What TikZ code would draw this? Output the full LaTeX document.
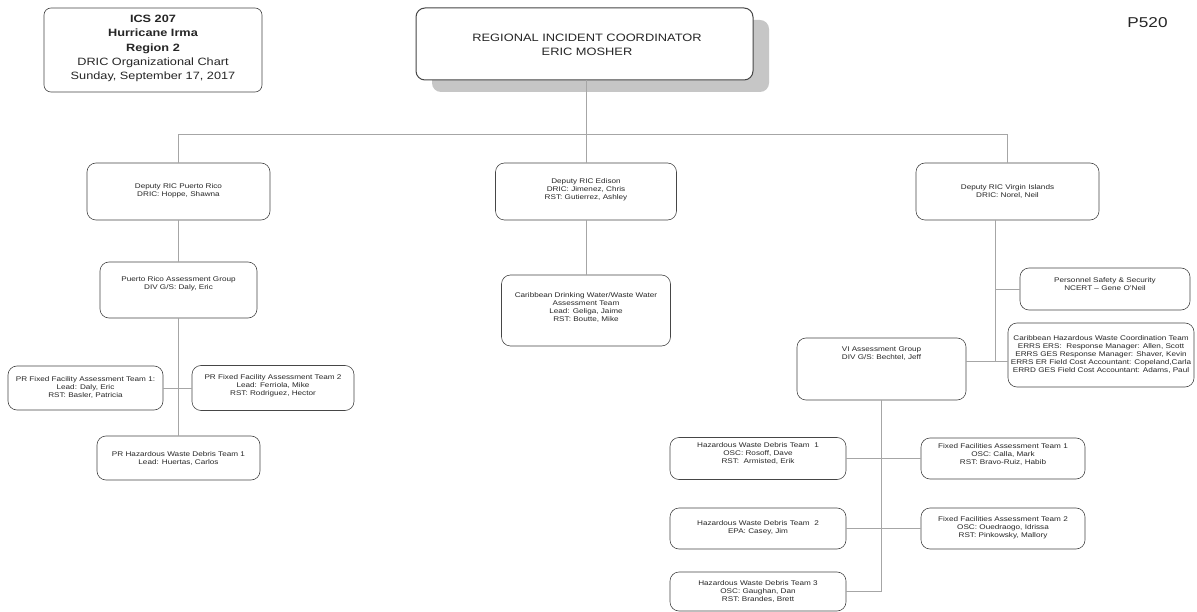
\documentclass[tikz,border=0pt]{standalone}
\usepackage{fontspec}
\setmainfont{Liberation Sans}[FakeStretch=1.2]
\tikzset{
  box/.style={draw=gray!55!black, line width=0.6pt, rounded corners=9pt, fill=white, inner sep=0pt},
  conn/.style={draw=gray!70, line width=0.6pt},
  sm/.style={font=\fontsize{6.8}{8}\selectfont, align=center, text=black!85, inner sep=0pt},
  big/.style={font=\fontsize{10.6}{14.2}\selectfont, align=center, text=black!85, inner sep=0pt}
}
\newcommand{\bx}[5]{\node[box, minimum width=#4pt, minimum height=#5pt] (#1) at (#2,#3) {};}
\begin{document}
\begin{tikzpicture}[x=1pt,y=1pt]
\path[use as bounding box, fill=white] (0,0) rectangle (1197,-612);

% title box
\node[box, rounded corners=7pt, minimum width=218pt, minimum height=84pt] (title) at (153,-50) {};
\node[big] (titletxt) at (153,-48.5) {\textbf{ICS 207}\\\textbf{Hurricane Irma}\\\textbf{Region 2}\\DRIC Organizational Chart\\Sunday, September 17, 2017};

% RIC
\fill[gray!45, rounded corners=9pt] (432,-20) rectangle (769,-92);
\node[box, line width=1pt, minimum width=337pt, minimum height=72pt] (ric) at (584.5,-44) {};
\node[big, font=\fontsize{10.7}{14.5}\selectfont] (rictxt) at (587,-45) {REGIONAL INCIDENT COORDINATOR\\ERIC MOSHER};

\node[font=\fontsize{14.3}{16}\selectfont, text=black!85, inner sep=0pt] (p520) at (1147.5,-23) {P520};

% deputies
\bx{dl}{178.5}{-191.5}{183}{57}
\bx{dc}{586}{-191.5}{181}{57}
\bx{dr}{1007.5}{-191.5}{183}{57}
\node[sm] (dltxt) at (178.5,-191) {Deputy RIC Puerto Rico\\DRIC: Hoppe, Shawna};
\node[sm] (dctxt) at (586,-190) {Deputy RIC Edison\\DRIC: Jimenez, Chris\\RST: Gutierrez, Ashley};
\node[sm] (drtxt) at (1007.5,-191) {Deputy RIC Virgin Islands\\DRIC: Norel, Neil};

\coordinate (busM) at (586,-134);
\draw[conn] (dl.north) -- (dl.north |- busM) -- (dr.north |- busM) -- (dr.north);
\draw[conn] (ric.south -| busM) -- (busM);
\draw[conn] (dc.north) -- (busM);

% Puerto Rico branch
\bx{prg}{178.5}{-290}{157}{56}
\node[sm] (prgtxt) at (178.5,-283.5) {Puerto Rico Assessment Group\\DIV G/S: Daly, Eric};
\bx{pf1}{85.5}{-388}{155}{44}
\node[sm] (pf1txt) at (85.5,-387) {PR Fixed Facility Assessment Team 1:\\Lead: Daly, Eric\\RST: Basler, Patricia};
\bx{pf2}{273}{-388}{162}{45}
\node[sm] (pf2txt) at (273,-385.5) {PR Fixed Facility Assessment Team 2\\Lead: Ferriola, Mike\\RST: Rodriguez, Hector};
\bx{prh}{178.5}{-458}{163}{44}
\node[sm] (prhtxt) at (178.5,-458) {PR Hazardous Waste Debris Team 1\\Lead: Huertas, Carlos};
\draw[conn] (dl.south) -- (prg.north);
\draw[conn] (prg.south) -- (prh.north);
\draw[conn] (pf1.east) -- (pf2.west);

% Edison branch
\bx{cdw}{586}{-310.5}{169}{71}
\node[sm] (cdwtxt) at (586,-307.5) {Caribbean Drinking Water/Waste Water\\Assessment Team\\Lead: Geliga, Jaime\\RST: Boutte, Mike};
\draw[conn] (dc.south) -- (cdw.north);

% Virgin Islands branch
\coordinate (rtop) at (995,-220);
\coordinate (rbot) at (995,-361);
\bx{pss}{1105}{-289}{170}{42}
\node[sm] (psstxt) at (1105,-284) {Personnel Safety \& Security\\NCERT -- Gene O'Neil};
\bx{chw}{1101}{-355}{186}{64}
\node[sm] (chwtxt) at (1101,-354) {Caribbean Hazardous Waste Coordination Team\\ERRS ERS:\ \ Response Manager: Allen, Scott\\ERRS GES Response Manager: Shaver, Kevin\\ERRS ER Field Cost Accountant: Copeland,Carla\\ERRD GES Field Cost Accountant: Adams, Paul};
\bx{vig}{881.5}{-369}{169}{62}
\node[sm] (vigtxt) at (881.5,-354) {VI Assessment Group\\DIV G/S: Bechtel, Jeff};
\draw[conn] (rtop) -- (rbot);
\draw[conn] (pss.west) -- (pss.west -| rtop);
\draw[conn] (vig.east |- rbot) -- (chw.west |- rbot);

\bx{hz1}{758}{-458.5}{176}{42}
\node[sm] (hz1txt) at (758,-453) {Hazardous Waste Debris Team\ \ 1\\OSC: Rosoff, Dave\\RST:\ \ Armisted, Erik};
\bx{fx1}{1003}{-458.5}{164}{41}
\node[sm] (fx1txt) at (1003,-454) {Fixed Facilities Assessment Team 1\\OSC: Calla, Mark\\RST: Bravo-Ruiz, Habib};
\bx{hz2}{758}{-528.5}{176}{41}
\node[sm] (hz2txt) at (758,-527.5) {Hazardous Waste Debris Team\ \ 2\\EPA: Casey, Jim};
\bx{fx2}{1003}{-528.5}{164}{41}
\node[sm] (fx2txt) at (1003,-528) {Fixed Facilities Assessment Team 2\\OSC: Ouedraogo, Idrissa\\RST: Pinkowsky, Mallory};
\bx{hz3}{758}{-591.5}{176}{39}
\node[sm] (hz3txt) at (758,-591.5) {Hazardous Waste Debris Team 3\\OSC: Gaughan, Dan\\RST: Brandes, Brett};
\draw[conn] (vig.south) -- (vig.south |- hz3.east);
\draw[conn] (hz1.east) -- (fx1.west);
\draw[conn] (hz2.east) -- (fx2.west);
\draw[conn] (hz3.east) -- (hz3.east -| vig.south);
\end{tikzpicture}
\end{document}
